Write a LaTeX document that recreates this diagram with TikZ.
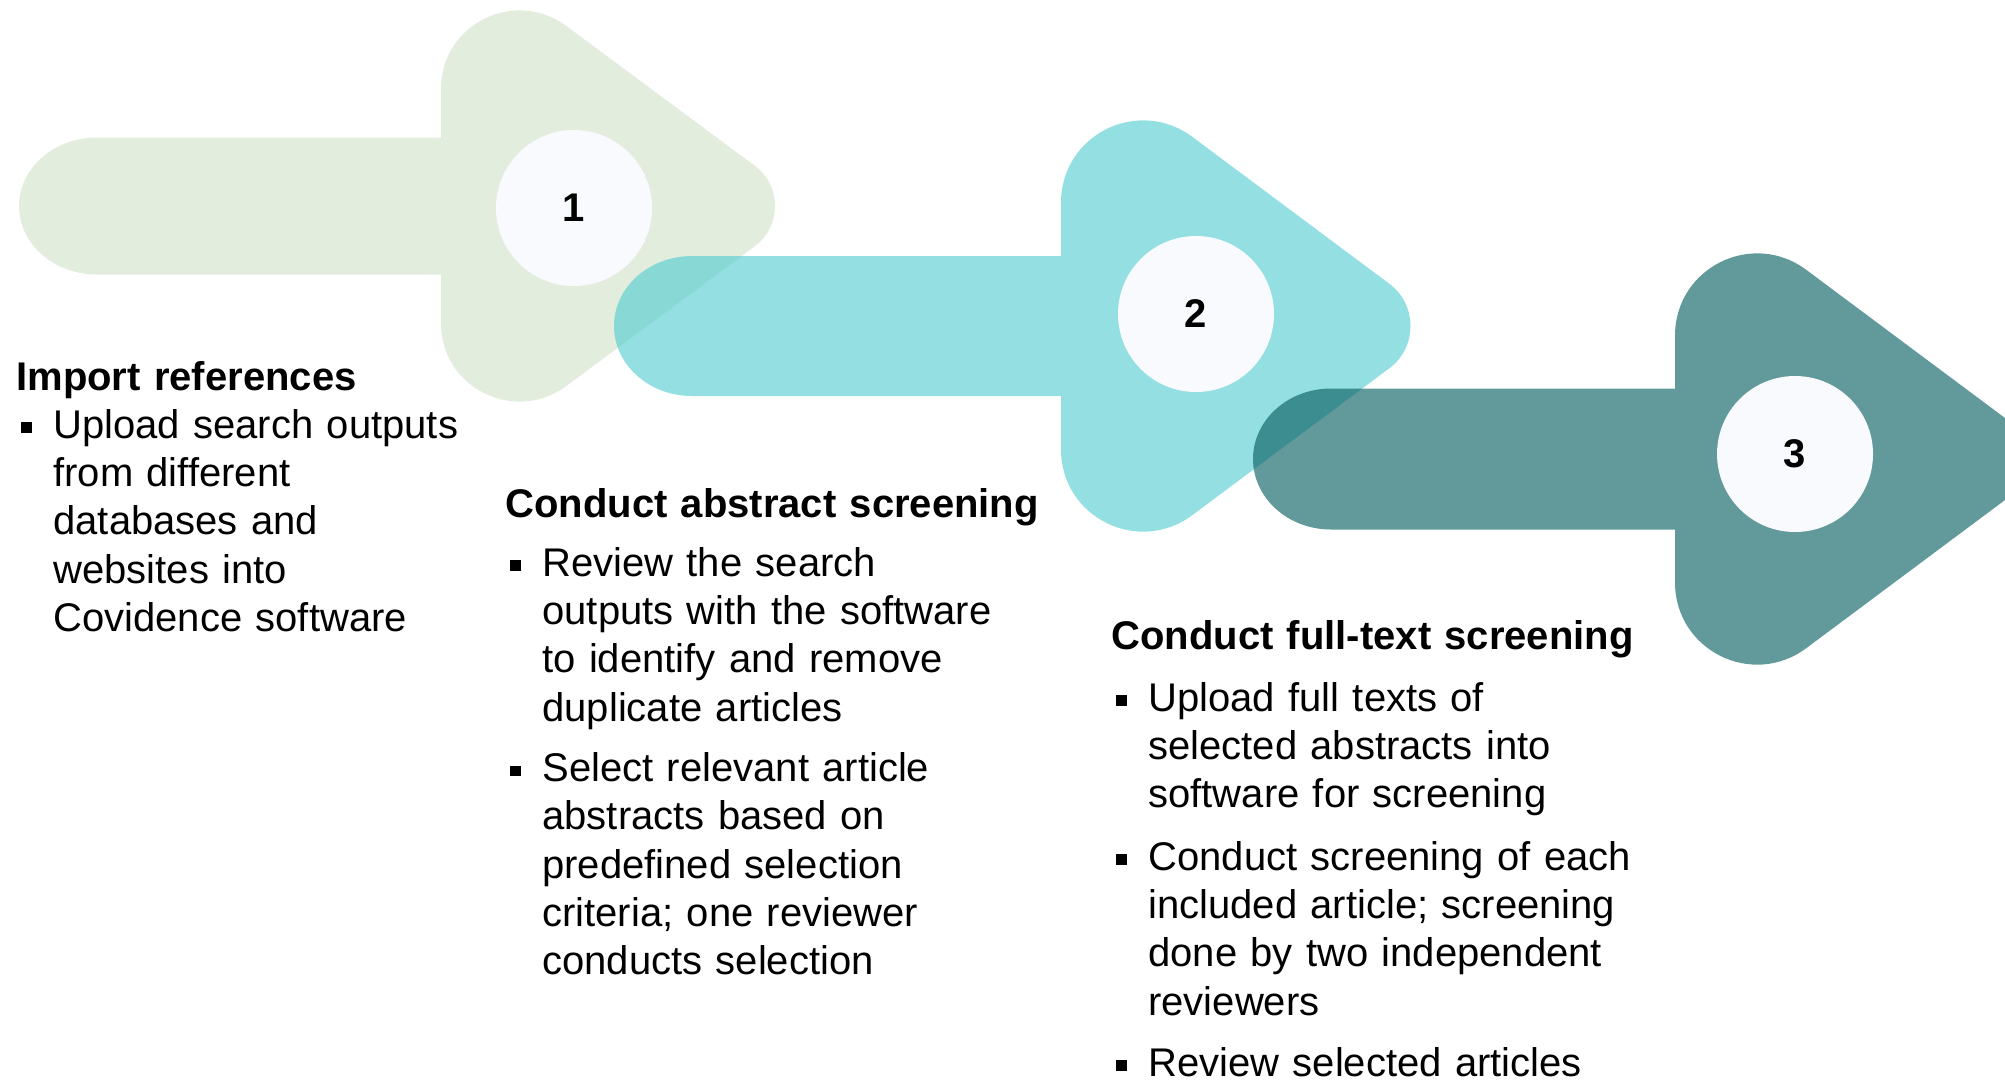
\documentclass[tikz,border=0pt]{standalone}
\usepackage{fontspec}
\setmainfont{Liberation Sans}
\usetikzlibrary{calc,positioning}

\definecolor{stepgreen}{RGB}{211,228,203}
\definecolor{stepcyan}{RGB}{89,206,209}
\definecolor{stepteal}{RGB}{14,98,100}
\definecolor{discfill}{RGB}{248,250,254}

\newlength{\bulletindent}
\setlength{\bulletindent}{18.5pt}
% bullet paragraph, optional space before it
\newcommand{\stepitem}[2][6pt]{%
  \par\vspace{#1}\hangindent=\bulletindent\hangafter=1\noindent
  \makebox[\bulletindent][l]{\hspace{2.5pt}\rule[2.8pt]{5.2pt}{5.2pt}}#2\par}

% one arrow: name, style, tail x, head x, tip x, centre y, head half height, shaft half height
\newcommand{\steparrow}[8]{%
  \coordinate (#1a) at (#4,#6-#7);
  \coordinate (#1b) at (#5,#6);
  \coordinate (#1c) at (#4,#6+#7);
  \fill[#2]
    %shaft
    (#4+40,#6-#8) -- (#3+78,#6-#8)
      arc[start angle=270,end angle=90,x radius=78,y radius=#8]
      -- (#4+40,#6+#8) -- cycle
    %head
    ($(#1a)!.285!(#1c)$) -- ($(#1c)!.285!(#1a)$)
      .. controls ($(#1c)!.167!(#1a)$) and ($(#1c)!.2!(#1b)$) .. ($(#1c)!.341!(#1b)$)
      -- ($(#1b)!.147!(#1c)$)
      .. controls ($(#1b)!.074!(#1c)$) and ($(#1b)!.074!(#1a)$) .. ($(#1b)!.147!(#1a)$)
      -- ($(#1a)!.341!(#1b)$)
      .. controls ($(#1a)!.2!(#1b)$) and ($(#1a)!.167!(#1c)$) .. ($(#1a)!.285!(#1c)$)
      -- cycle;
}

\tikzset{
    %Define styles for the arrows
    arrowone/.style={fill=stepgreen, fill opacity=0.65},
    arrowtwo/.style={fill=stepcyan, fill opacity=0.65},
    arrowthree/.style={fill=stepteal, fill opacity=0.65},
    %Define style for the numbered discs
    disc/.style={
           circle,
           fill=discfill,
           minimum size=78pt,
           inner sep=0pt,
           font=\fontsize{20}{24}\selectfont\bfseries},
    %Define style for text blocks
    info/.style={
           anchor=base west,
           inner sep=0pt,
           text width=290pt,
           align=left,
           font=\fontsize{20}{24.15}\selectfont}
}

\begin{document}
\begin{tikzpicture}[x=0.5pt, y={(0pt,-0.5pt)}]
 \clip (0,0) rectangle (2005,1083);

 %Arrows
 \steparrow{aone}{arrowone}{19}{441}{809}{206}{273}{68.5}
 \node[disc] (n1) at (574,208) {1};

 \steparrow{atwo}{arrowtwo}{614}{1061}{1446}{326}{287}{70}
 \node[disc] (n2) at (1196,314) {2};

 \steparrow{athree}{arrowthree}{1253}{1675}{2060}{459}{287}{70.5}
 \node[disc] (n3) at (1795,454) {3};

 %Text
 \node[info] (import) at (16,390) {\textbf{Import references}
   \stepitem[0pt]{Upload search outputs\newline from different\newline databases and\newline websites into\newline Covidence software}};

 \node[info] (abstract) at (505,517) {\textbf{Conduct abstract screening}
   \stepitem[5.5pt]{Review the search\newline outputs with the software\newline to identify and remove\newline duplicate articles}
   \stepitem{Select relevant article\newline abstracts based on\newline predefined selection\newline criteria; one reviewer\newline conducts selection}};

 \node[info] (fulltext) at (1111,649) {\textbf{Conduct full-text screening}
   \stepitem[7pt]{Upload full texts of\newline selected abstracts into\newline software for screening}
   \stepitem[7pt]{Conduct screening of each\newline included article; screening\newline done by two independent\newline reviewers}
   \stepitem[6.5pt]{Review selected articles}};
\end{tikzpicture}
\end{document}
